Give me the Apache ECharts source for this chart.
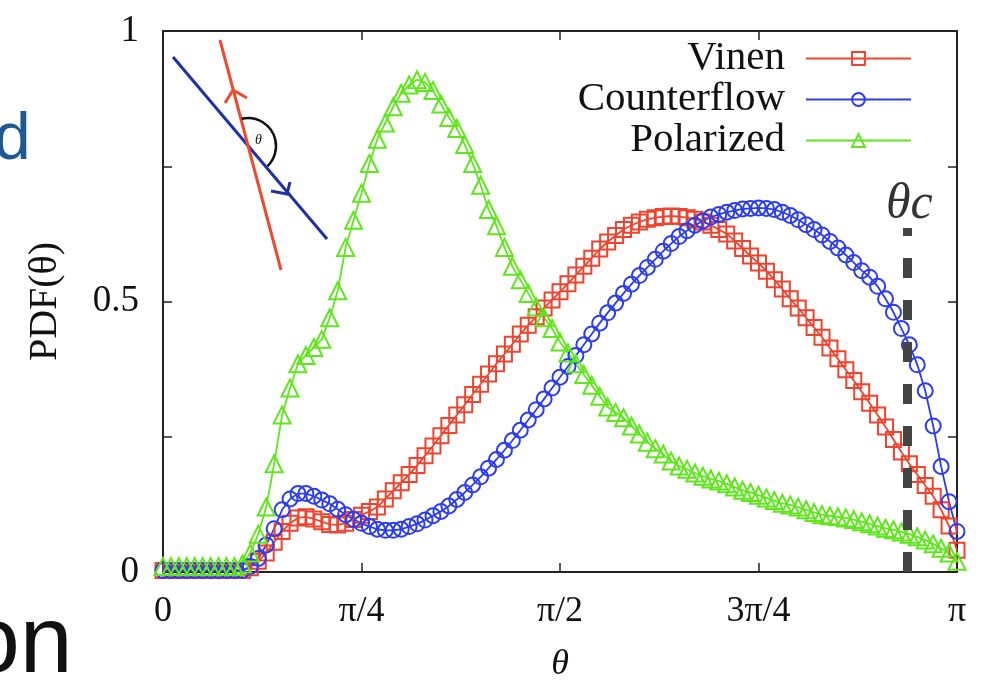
<!DOCTYPE html>
<html lang="en">
<head>
    <meta charset="UTF-8">
    <title>PDF(θ)</title>
    <script type="text/javascript" src="https://cdn.jsdelivr.net/npm/echarts@6/dist/echarts.min.js"></script>
    <style>
        html, body { margin: 0; padding: 0; background: #fff; }
    </style>
</head>
<body>
    <div id="main" style="width: 985px;height:682px;"></div>
    <script type="text/javascript">
        // theta in units of pi, sampled every 0.01 pi
        var theta = [];
        for (var i = 0; i <= 100; i++) theta.push(i / 100);

        var vinen = [0.003, 0.003, 0.003, 0.003, 0.003, 0.003, 0.003, 0.003, 0.003, 0.003,
            0.003, 0.008, 0.02, 0.035, 0.055, 0.075, 0.09, 0.10, 0.102, 0.098,
            0.093, 0.088, 0.087, 0.09, 0.097, 0.105, 0.112, 0.12, 0.135, 0.15,
            0.165, 0.18, 0.197, 0.215, 0.233, 0.252, 0.271, 0.29, 0.309, 0.328,
            0.347, 0.366, 0.385, 0.403, 0.421, 0.44, 0.456, 0.472, 0.488, 0.503,
            0.518, 0.533, 0.549, 0.565, 0.58, 0.597, 0.61, 0.622, 0.633, 0.641,
            0.647, 0.652, 0.655, 0.657, 0.658, 0.657, 0.655, 0.652, 0.647, 0.641,
            0.633, 0.625, 0.612, 0.598, 0.584, 0.571, 0.556, 0.54, 0.523, 0.505,
            0.488, 0.47, 0.452, 0.434, 0.414, 0.394, 0.374, 0.354, 0.333, 0.312,
            0.29, 0.268, 0.245, 0.222, 0.2, 0.18, 0.16, 0.14, 0.115, 0.085, 0.04];

        var counterflow = [0.003, 0.003, 0.003, 0.003, 0.003, 0.003, 0.003, 0.003, 0.003, 0.003,
            0.003, 0.01, 0.025, 0.05, 0.08, 0.115, 0.135, 0.145, 0.145, 0.14,
            0.133, 0.126, 0.116, 0.106, 0.097, 0.09, 0.084, 0.079, 0.077, 0.077,
            0.079, 0.084, 0.089, 0.096, 0.104, 0.112, 0.122, 0.134, 0.147, 0.161,
            0.176, 0.192, 0.208, 0.225, 0.243, 0.262, 0.281, 0.3, 0.32, 0.34,
            0.36, 0.38, 0.4, 0.42, 0.44, 0.46, 0.479, 0.497, 0.515, 0.532,
            0.548, 0.563, 0.578, 0.593, 0.607, 0.62, 0.631, 0.641, 0.649, 0.656,
            0.661, 0.665, 0.668, 0.671, 0.672, 0.673, 0.672, 0.67, 0.665, 0.659,
            0.651, 0.642, 0.633, 0.623, 0.611, 0.599, 0.586, 0.572, 0.557, 0.545,
            0.528, 0.505, 0.48, 0.45, 0.42, 0.383, 0.335, 0.27, 0.195, 0.13, 0.075];

        var polarized = [0.01, 0.01, 0.01, 0.01, 0.01, 0.01, 0.01, 0.01, 0.01, 0.01,
            0.015, 0.035, 0.07, 0.12, 0.2, 0.29, 0.34, 0.385, 0.4, 0.415,
            0.43, 0.47, 0.52, 0.6, 0.65, 0.7, 0.755, 0.8, 0.83, 0.86,
            0.885, 0.9, 0.91, 0.905, 0.89, 0.865, 0.84, 0.82, 0.79, 0.755,
            0.715, 0.67, 0.64, 0.6, 0.565, 0.54, 0.515, 0.49, 0.47, 0.45,
            0.425, 0.405, 0.385, 0.365, 0.345, 0.325, 0.305, 0.295, 0.285, 0.27,
            0.255, 0.24, 0.228, 0.218, 0.205, 0.196, 0.19, 0.183, 0.177, 0.172,
            0.168, 0.163, 0.157, 0.151, 0.147, 0.142, 0.137, 0.132, 0.127, 0.124,
            0.12, 0.115, 0.11, 0.106, 0.104, 0.102, 0.1, 0.097, 0.093, 0.089,
            0.085, 0.081, 0.078, 0.074, 0.07, 0.065, 0.059, 0.052, 0.044, 0.035, 0.02];

        var xTicks = { '0': '0', '0.25': 'π/4', '0.5': 'π/2', '0.75': '3π/4', '1': 'π' };
        var yTicks = { '0': '0', '0.5': '0.5', '1': '1' };
        var thetaC = 0.937;      // critical angle, units of pi
        var thetaCTop = 0.636;   // top of dashed marker

        var serif = '"Liberation Serif", "DejaVu Serif", serif';
        var red = '#f0432d', blue = '#2b3cf2', green = '#5fe61c';

        function pairs(vals) {
            return theta.map(function (t, i) { return [t, vals[i]]; });
        }

        function mkSeries(name, vals, color, symbol, size) {
            return {
                name: name,
                type: 'line',
                data: pairs(vals),
                symbol: symbol,
                symbolSize: size,
                showAllSymbol: true,
                lineStyle: { color: color, width: 1.8 },
                itemStyle: { color: 'rgba(255,255,255,0)', borderColor: color, borderWidth: 2 },
                emphasis: { disabled: true },
                z: 3
            };
        }

        var axisLine = { show: true, onZero: false, lineStyle: { color: '#222', width: 2 } };
        var tick = { show: true, inside: true, length: 9, lineStyle: { color: '#222', width: 1.5 } };

        var myChart = echarts.init(document.getElementById('main'));
        var option = {
            animation: false,
            backgroundColor: '#fff',
            grid: { left: 163, right: 28, top: 31, bottom: 110, outerBoundsMode: 'none', containLabel: false },
            legend: {
                orient: 'vertical',
                right: 68,
                top: 33,
                align: 'right',
                itemWidth: 105,
                itemHeight: 16,
                itemGap: 0,
                textStyle: { fontFamily: serif, fontSize: 41, color: '#111', lineHeight: 40, padding: [0, 16, 0, 0] },
                data: ['Vinen', 'Counterflow', 'Polarized']
            },
            xAxis: [{
                type: 'value', min: 0, max: 1, interval: 0.25,
                name: 'θ', nameLocation: 'middle', nameGap: 75,
                nameTextStyle: { fontFamily: serif, fontSize: 36, fontStyle: 'italic', color: '#111' },
                axisLine: axisLine, axisTick: tick, splitLine: { show: false },
                axisLabel: {
                    margin: 22, fontFamily: serif, fontSize: 36, color: '#111',
                    formatter: function (v) { return xTicks[String(v)] || ''; }
                }
            }, {
                type: 'value', min: 0, max: 1, interval: 0.25, position: 'top',
                axisLine: axisLine, axisTick: tick, splitLine: { show: false }, axisLabel: { show: false }
            }],
            yAxis: [{
                type: 'value', min: 0, max: 1, interval: 0.25,
                name: 'PDF(θ)', nameLocation: 'middle', nameGap: 98, nameRotate: 90,
                nameTextStyle: { fontFamily: serif, fontSize: 40, color: '#111' },
                axisLine: axisLine, axisTick: tick, splitLine: { show: false },
                axisLabel: {
                    margin: 24, fontFamily: serif, fontSize: 37, color: '#111',
                    formatter: function (v) { return yTicks[String(v)] || ''; }
                }
            }, {
                type: 'value', min: 0, max: 1, interval: 0.25, position: 'right',
                axisLine: axisLine, axisTick: tick, splitLine: { show: false }, axisLabel: { show: false }
            }],
            series: [
                mkSeries('Vinen', vinen, red, 'rect', 15),
                mkSeries('Counterflow', counterflow, blue, 'circle', 15),
                mkSeries('Polarized', polarized, green, 'triangle', 17),
                {
                    type: 'line', data: [], silent: true,
                    markLine: {
                        silent: true, symbol: 'none', animation: false,
                        label: { show: false },
                        lineStyle: { color: '#444', width: 9, type: [20, 22] },
                        data: [[{ coord: [thetaC, 0] }, { coord: [thetaC, thetaCTop] }]]
                    }
                }
            ],
            graphic: [
                // slide text cut off at the left edge
                { type: 'text', x: -6, y: 108, style: { text: 'd', font: '66px "Liberation Sans", Arial, sans-serif', fill: '#1e5a8f' } },
                { type: 'text', x: -33, y: 598, style: { text: 'on', font: '95px "Liberation Sans", Arial, sans-serif', fill: '#111' } },
                // theta_c label
                { type: 'text', x: 886, y: 180, style: { text: 'θc', font: 'italic 50px ' + serif, fill: '#333' } },
                // inset sketch
                { type: 'line', shape: { x1: 173, y1: 57, x2: 327, y2: 239 }, style: { stroke: '#1f2fa6', lineWidth: 3 } },
                { type: 'line', shape: { x1: 220, y1: 40, x2: 281, y2: 270 }, style: { stroke: '#ee4a30', lineWidth: 3 } },
                { type: 'polyline', shape: { points: [[225, 103], [233, 90], [247, 98]] }, style: { stroke: '#ee4a30', lineWidth: 3, fill: null } },
                { type: 'polyline', shape: { points: [[271, 191], [287, 194], [290, 182]] }, style: { stroke: '#1f2fa6', lineWidth: 3, fill: null } },
                { type: 'arc', shape: { cx: 248, cy: 146, r: 28, startAngle: -1.80, endAngle: 0.80, clockwise: true }, style: { stroke: '#111', lineWidth: 2.5, fill: null } },
                { type: 'text', x: 255, y: 133, style: { text: 'θ', font: 'italic 14px ' + serif, fill: '#111' } }
            ]
        };
        myChart.setOption(option);
    </script>
</body>
</html>
